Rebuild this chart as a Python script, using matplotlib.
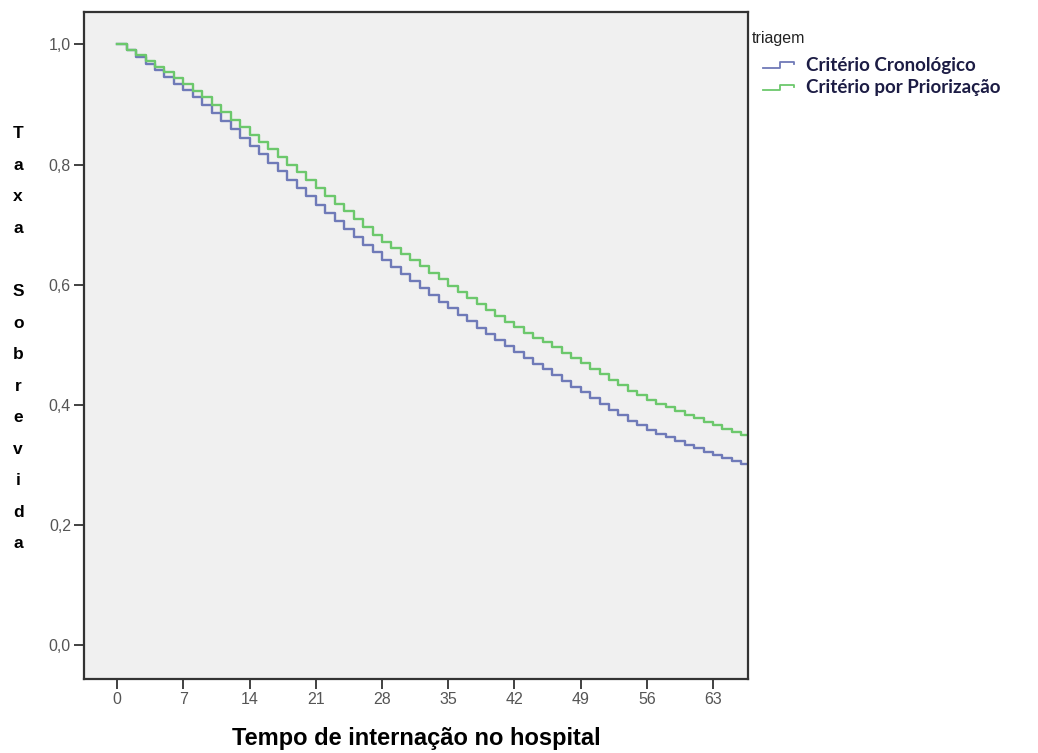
import numpy as np
import matplotlib
matplotlib.use("Agg")
import matplotlib.pyplot as plt
from matplotlib.lines import Line2D
from matplotlib.legend_handler import HandlerBase

# days since admission (steps of one day)
days = np.arange(0, 68)

cronologico = [
    1.000, 0.990, 0.979, 0.968, 0.957, 0.946, 0.935, 0.924, 0.912, 0.899,
    0.886, 0.873, 0.859, 0.845, 0.831, 0.817, 0.803, 0.789, 0.775, 0.761,
    0.747, 0.733, 0.719, 0.706, 0.693, 0.680, 0.667, 0.654, 0.642, 0.630,
    0.618, 0.606, 0.594, 0.583, 0.572, 0.561, 0.550, 0.539, 0.528, 0.518,
    0.508, 0.498, 0.488, 0.478, 0.468, 0.459, 0.449, 0.440, 0.430, 0.421,
    0.411, 0.402, 0.392, 0.383, 0.374, 0.366, 0.359, 0.352, 0.346, 0.340,
    0.334, 0.328, 0.322, 0.316, 0.311, 0.306, 0.301, 0.296,
]

priorizacao = [
    1.000, 0.991, 0.982, 0.972, 0.963, 0.954, 0.944, 0.934, 0.923, 0.912,
    0.900, 0.888, 0.875, 0.862, 0.850, 0.838, 0.826, 0.813, 0.800, 0.787,
    0.774, 0.761, 0.748, 0.735, 0.722, 0.709, 0.696, 0.683, 0.672, 0.662,
    0.652, 0.642, 0.631, 0.620, 0.609, 0.598, 0.588, 0.578, 0.568, 0.558,
    0.548, 0.538, 0.529, 0.520, 0.512, 0.504, 0.496, 0.487, 0.478, 0.469,
    0.460, 0.451, 0.442, 0.433, 0.424, 0.416, 0.409, 0.402, 0.396, 0.390,
    0.384, 0.378, 0.372, 0.366, 0.360, 0.355, 0.350, 0.345,
]

labels = ["Critério Cronológico", "Critério por Priorização"]
colors = ["#6f7ab8", "#6cc86c"]
x_ticks = [0, 7, 14, 21, 28, 35, 42, 49, 56, 63]
y_ticks = [0.0, 0.2, 0.4, 0.6, 0.8, 1.0]


class StepHandler(HandlerBase):
    # little step glyph like the SPSS legend
    def create_artists(self, legend, orig_handle, xdescent, ydescent,
                       width, height, fontsize, trans):
        xs = [0, width * 0.5, width * 0.5, width * 0.9, width * 0.9]
        ys = [height * 0.25, height * 0.25, height * 0.65, height * 0.65,
              height * 0.5]
        ln = Line2D(xs, ys, color=orig_handle.get_color(), lw=1.3,
                    transform=trans)
        return [ln]


plt.rcParams['font.family'] = ['Liberation Sans', 'DejaVu Sans']

fig = plt.figure(figsize=(10.38, 7.53), dpi=100)
ax = fig.add_axes([0.081, 0.098, 0.6396, 0.886])
ax.set_facecolor("#f0f0f0")

handles = []
for vals, c, lab in zip([cronologico, priorizacao], colors, labels):
    h, = ax.step(days, vals, where='post', color=c, lw=1.7, label=lab)
    handles.append(h)

ax.set_xlim(-3.5, 66.7)
ax.set_ylim(-0.0566, 1.054)
ax.set_xticks(x_ticks)
ax.set_xticklabels([str(t) for t in x_ticks])
ax.set_yticks(y_ticks)
ax.set_yticklabels([f"{t:.1f}".replace(".", ",") for t in y_ticks])
ax.tick_params(direction='out', length=7.5, width=1.3, color="#333333",
               labelsize=11.5, labelcolor="#555555", pad=2)
for s in ax.spines.values():
    s.set_color("#333333")
    s.set_linewidth(1.6)

ax.set_xlabel("Tempo de internação no hospital", fontsize=17,
              fontweight='bold', labelpad=14)

ylab = "\n".join(list("Taxa")) + "\n\n" + "\n".join(list("Sobrevida"))
fig.text(0.0175, 0.55, ylab, fontsize=12.5, fontweight='bold',
         ha='center', va='center', linespacing=2.38)

fig.text(0.7245, 0.949, "triagem", fontsize=11.5, color="#222222",
         ha='left', va='center')
leg = fig.legend(handles=handles, labels=labels, loc='upper left',
                 bbox_to_anchor=(0.719, 0.947), frameon=False,
                 handler_map={h: StepHandler() for h in handles},
                 handlelength=1.8, handletextpad=0.5, labelspacing=0.3,
                 prop={'family': ['Lato', 'DejaVu Sans'], 'weight': 'bold',
                       'size': 13.5})
for t in leg.get_texts():
    t.set_color("#1c1c44")

fig.savefig("out.png", dpi=100)
